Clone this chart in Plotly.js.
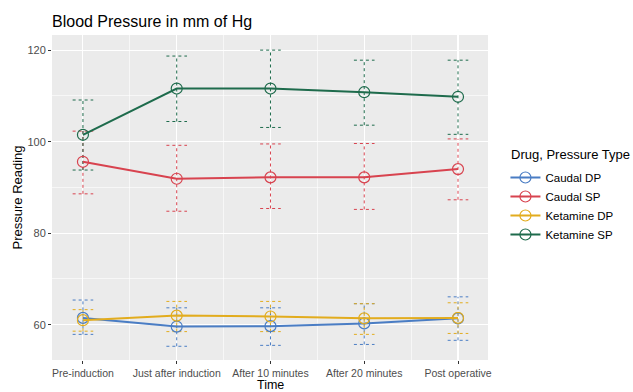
<!DOCTYPE html>
<html>
<head>
<meta charset="utf-8">
<script src="https://cdn.plot.ly/plotly-3.0.1.min.js"></script>
<style>html,body{margin:0;padding:0;background:#fff;}#chart{width:633px;height:392px;}</style>
</head>
<body>
<div id="chart"></div>
<script>
const categories = ["Pre-induction", "Just after induction", "After 10 minutes", "After 20 minutes", "Post operative"];
const seriesNames = ["Caudal DP", "Caudal SP", "Ketamine DP", "Ketamine SP"];

const caudalDP    = [61.5, 59.6, 59.7, 60.3, 61.4];
const caudalDPLow = [57.9, 55.3, 55.5, 55.7, 56.6];
const caudalDPHigh= [65.4, 63.7, 63.7, 64.6, 66.1];

const caudalSP    = [95.6, 91.9, 92.2, 92.2, 94.0];
const caudalSPLow = [88.6, 84.8, 85.4, 85.2, 87.3];
const caudalSPHigh= [102.3, 99.2, 99.5, 99.6, 100.6];

const ketamineDP    = [61.0, 62.0, 61.8, 61.4, 61.5];
const ketamineDPLow = [58.6, 58.5, 58.5, 57.9, 58.1];
const ketamineDPHigh= [63.3, 65.1, 65.1, 64.6, 64.8];

const ketamineSP    = [101.5, 111.6, 111.6, 110.8, 109.8];
const ketamineSPLow = [93.8, 104.4, 103.1, 103.6, 101.6];
const ketamineSPHigh= [109.1, 118.7, 120.0, 117.8, 117.8];

const colors = ["#4A7DC4", "#D8434F", "#E2AC1E", "#1E6B4C"];
const means = [caudalDP, caudalSP, ketamineDP, ketamineSP];
const lows = [caudalDPLow, caudalSPLow, ketamineDPLow, ketamineSPLow];
const highs = [caudalDPHigh, caudalSPHigh, ketamineDPHigh, ketamineSPHigh];

const xPos = categories.map((c, i) => i + 1);
const capHalf = 0.11;

const traces = [];
// dashed error bars
means.forEach((m, s) => {
  const ex = [], ey = [];
  xPos.forEach((x, i) => {
    ex.push(x, x, null, x - capHalf, x + capHalf, null, x - capHalf, x + capHalf, null);
    ey.push(lows[s][i], highs[s][i], null, highs[s][i], highs[s][i], null, lows[s][i], lows[s][i], null);
  });
  traces.push({
    x: ex, y: ey, type: "scatter", mode: "lines", showlegend: false, hoverinfo: "skip",
    line: {color: colors[s], width: 1, dash: "3px,3px"}
  });
});
// lines + open circles
means.forEach((m, s) => {
  traces.push({
    x: xPos, y: m, type: "scatter", mode: "lines+markers", name: seriesNames[s],
    line: {color: colors[s], width: 2},
    marker: {symbol: "circle-open", size: 11, color: colors[s], line: {width: 1.2}}
  });
});

const PH = 325; // plot height in px
const layout = {
  width: 633, height: 392,
  paper_bgcolor: "#ffffff", plot_bgcolor: "#EBEBEB",
  margin: {l: 52, r: 145, t: 35, b: 32},
  font: {family: "Liberation Sans, Arial, sans-serif", color: "#000"},
  title: {text: "Blood Pressure in mm of Hg", font: {size: 16, color: "#000"}, x: 52/633, xanchor: "left", y: 1 - 21/392, yanchor: "middle"},
  xaxis: {
    range: [0.67, 5.32], tickmode: "array", tickvals: xPos, ticktext: categories,
    showgrid: true, gridcolor: "#ffffff", gridwidth: 1.1, zeroline: false,
    ticks: "outside", ticklen: 3, tickcolor: "#333", tickwidth: 1,
    tickfont: {size: 10.5, color: "#4D4D4D"},
    minor: {tickvals: [1.5, 2.5, 3.5, 4.5], showgrid: true, gridcolor: "#ffffff", gridwidth: 0.6, ticks: ""},
    showline: false
  },
  yaxis: {
    range: [52.3, 123.3], tickmode: "array", tickvals: [60, 80, 100, 120],
    showgrid: true, gridcolor: "#ffffff", gridwidth: 1.1, zeroline: false,
    ticks: "outside", ticklen: 3, tickcolor: "#333", tickwidth: 1,
    tickfont: {size: 11, color: "#4D4D4D"},
    minor: {tickvals: [70, 90, 110], showgrid: true, gridcolor: "#ffffff", gridwidth: 0.6, ticks: ""},
    showline: false
  },
  annotations: [
    {text: "Time", xref: "paper", yref: "paper", x: 0.5, y: -25/PH, xanchor: "center", yanchor: "middle", showarrow: false, font: {size: 12.5, color: "#000"}},
    {text: "Pressure Reading", xref: "paper", yref: "paper", x: -35/436, y: 0.5, xanchor: "center", yanchor: "middle", textangle: -90, showarrow: false, font: {size: 13, color: "#000"}},
    {text: "Drug, Pressure Type", xref: "paper", yref: "paper", x: (509-52)/436, y: (360-154)/PH, xanchor: "left", yanchor: "middle", showarrow: false, font: {size: 13, color: "#000"}}
  ],
  legend: {
    x: 1.04, xanchor: "left", y: (360-163)/PH, yanchor: "top",
    font: {size: 11.5, color: "#000"}, bgcolor: "rgba(0,0,0,0)", itemwidth: 30, tracegroupgap: 0
  },
  showlegend: true
};

Plotly.newPlot("chart", traces, layout, {displayModeBar: false, staticPlot: true});
</script>
</body>
</html>
